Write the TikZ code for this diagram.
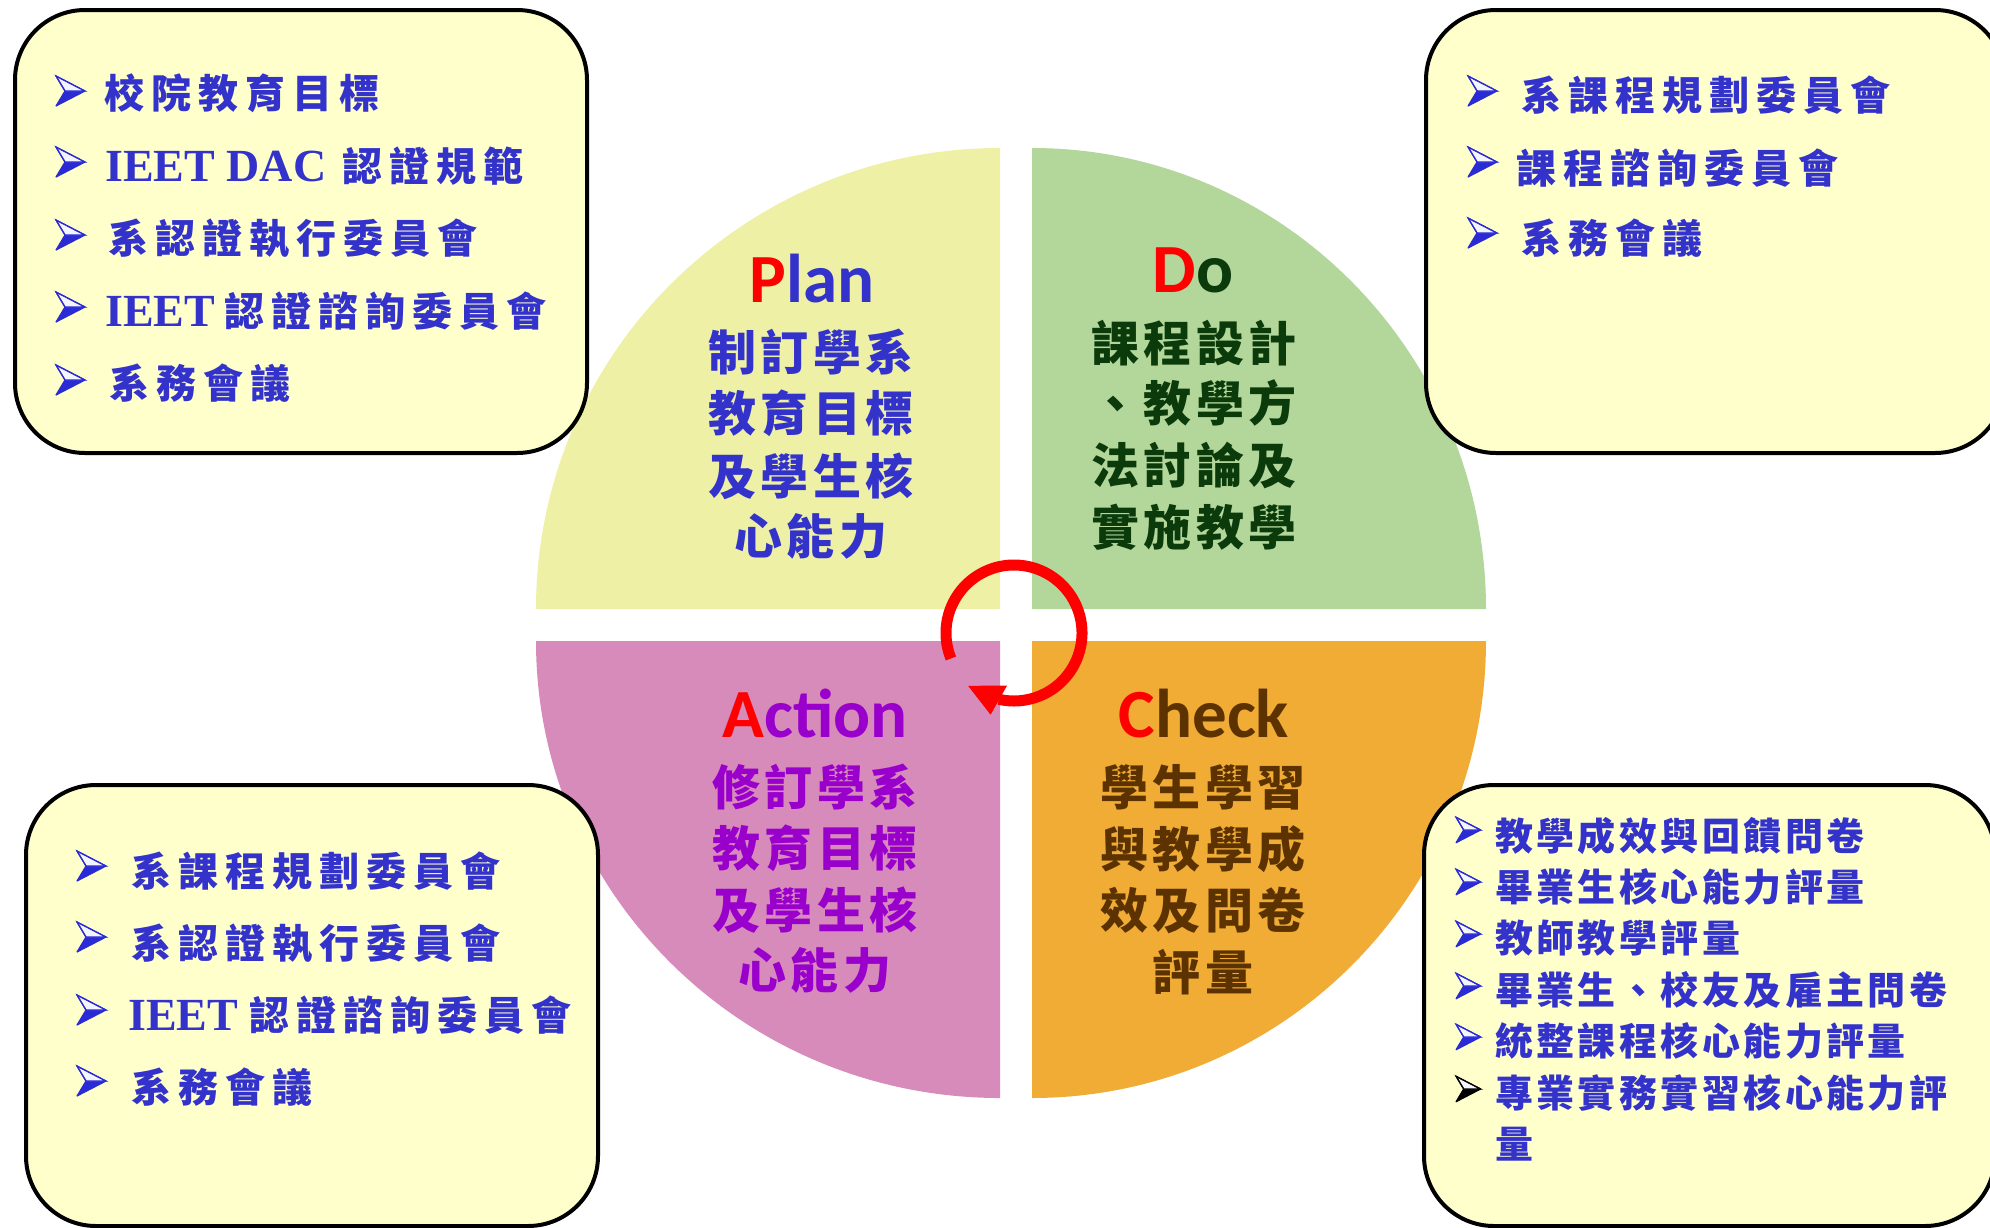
\documentclass[tikz,border=0pt]{standalone}
\usepackage{fontspec}
\newfontfamily\cjkf{Noto Sans CJK TC}
\newfontfamily\tnrf{Liberation Serif}
\newfontfamily\calf{Carlito}
\usetikzlibrary{calc}
\makeatletter
\newcommand\gapchars[2]{\def\gc@gap{#1}\gc@loop#2\relax}
\def\gc@loop#1{\ifx\relax#1\unskip\else#1\hskip\gc@gap\relax\expandafter\gc@loop\fi}
\makeatother
\newcommand\trkA[1]{\gapchars{7pt}{#1}}
\newcommand\trkB[1]{\gapchars{3.4pt}{#1}}
\newcommand\trkC[1]{\gapchars{4.3pt}{#1}}
\newcommand\latin[1]{{\tnrf\bfseries\fontsize{46}{46}\selectfont #1}}
\definecolor{boxfill}{HTML}{FFFFCC}
\definecolor{itemblue}{HTML}{3333CC}
\definecolor{bulblue}{HTML}{2B2BD6}
\definecolor{bullight}{HTML}{F4F4FF}
\definecolor{planfill}{HTML}{EEF0A6}
\definecolor{dofill}{HTML}{B3D69B}
\definecolor{actfill}{HTML}{D68BBA}
\definecolor{chkfill}{HTML}{F1AC36}
\definecolor{dogreen}{HTML}{0B3B0B}
\definecolor{actpurple}{HTML}{9900CC}
\definecolor{chkbrown}{HTML}{5C3300}
\newcommand\bulshape[1]{%
  \fill[#1] (9,0) -- (29,0) -- (0,15) -- cycle;
  \filldraw[draw=#1, fill=bullight, line width=1.2] (0,-15) -- (29,0) -- (9,0) -- cycle;
  \draw[#1, line width=1.2, line join=round] (0,-15) -- (29,0) -- (0,15) -- (9,0) -- cycle;}
\tikzset{
  bul/.pic={\bulshape{bulblue}},
  bulk/.pic={\bulshape{black}},
  box/.style={draw=black, line width=4, fill=boxfill, rounded corners=70pt, inner sep=0},
  item/.style={anchor=base west, inner sep=0, text=itemblue, font=\cjkf\bfseries\fontsize{40}{40}\selectfont},
  britem/.style={item, font=\cjkf\bfseries\fontsize{38}{38}\selectfont},
  qtext/.style={anchor=base, inner sep=0, font=\cjkf\bfseries\fontsize{48}{48}\selectfont},
  qtitle/.style={anchor=base, inner sep=0, font=\calf\bfseries\fontsize{69}{69}\selectfont},
}
\begin{document}
\begin{tikzpicture}[x=1pt,y=-1pt]
\useasboundingbox (0,0) rectangle (1990,1227);
\clip (0,0) rectangle (1990,1227);
% quadrants
\fill[planfill] (1000,609) -- (536,609) arc[start angle=180, end angle=270, x radius=464, y radius=461] -- cycle;
\fill[dofill] (1032,609) -- (1032,148) arc[start angle=270, end angle=360, x radius=454, y radius=461] -- cycle;
\fill[actfill] (1000,641) -- (1000,1098) arc[start angle=90, end angle=180, x radius=464, y radius=457] -- cycle;
\fill[chkfill] (1032,641) -- (1486,641) arc[start angle=0, end angle=90, x radius=454, y radius=457] -- cycle;
% cycle arrow
\coordinate (rc) at (1014,633);
\draw[red, line width=11] ($(rc)+(158:68)$) arc[start angle=158, end angle=463, radius=68];
\fill[red] ($(rc)+(97.5:53)$) -- ($(rc)+(131:70)$) -- ($(rc)+(106:85)$) -- cycle;
% boxes
\node[box, minimum width=572pt, minimum height=443pt] (tlbox) at (301,231.5) {};
\node[box, minimum width=579pt, minimum height=443pt] (trbox) at (1715.5,231.5) {};
\node[box, minimum width=572pt, minimum height=441pt] (blbox) at (312,1005.5) {};
\node[box, minimum width=571pt, minimum height=441pt] (brbox) at (1709.5,1005.5) {};
% top-left items
\pic at (56,91) {bul}; \pic at (56,162) {bul}; \pic at (56,235) {bul}; \pic at (56,307) {bul}; \pic at (56,380) {bul};
\node[item] (tl1) at (104,108) {\trkA{校院教育目標}};
\node[item] (tl2) at (105,181) {\latin{IEET DAC}\hspace{16pt}\trkA{認證規範}};
\node[item] (tl3) at (108,253) {\trkA{系認證執行委員會}};
\node[item] (tl4) at (105,326) {\latin{IEET}\hspace{9pt}\trkA{認證諮詢委員會}};
\node[item] (tl5) at (109,398) {\trkA{系務會議}};
% top-right items
\pic at (1468,91) {bul}; \pic at (1468,162) {bul}; \pic at (1468,233) {bul};
\node[item] (tr1) at (1521,110) {\trkA{系課程規劃委員會}};
\node[item] (tr2) at (1516,183) {\trkA{課程諮詢委員會}};
\node[item] (tr3) at (1521,253) {\trkA{系務會議}};
% bottom-left items
\pic at (77,866) {bul}; \pic at (77,937) {bul}; \pic at (77,1010) {bul}; \pic at (77,1081) {bul};
\node[item] (bl1) at (131,886) {\trkA{系課程規劃委員會}};
\node[item] (bl2) at (131,958) {\trkA{系認證執行委員會}};
\node[item] (bl3) at (128,1030) {\latin{IEET}\hspace{11pt}\trkA{認證諮詢委員會}};
\node[item] (bl4) at (131,1102) {\trkA{系務會議}};
% bottom-right items
\pic[scale=0.85] at (1456,830) {bul}; \pic[scale=0.85] at (1456,882) {bul}; \pic[scale=0.85] at (1456,934) {bul};
\pic[scale=0.85] at (1456,986) {bul}; \pic[scale=0.85] at (1456,1037) {bul}; \pic[scale=0.85] at (1456,1089) {bulk};
\node[britem] (br1) at (1495,850) {\trkB{教學成效與回饋問卷}};
\node[britem] (br2) at (1495,901) {\trkB{畢業生核心能力評量}};
\node[britem] (br3) at (1495,952) {\trkB{教師教學評量}};
\node[britem] (br4) at (1495,1004) {\trkB{畢業生、校友及雇主問卷}};
\node[britem] (br5) at (1495,1055) {\trkB{統整課程核心能力評量}};
\node[britem] (br6) at (1495,1107) {\trkB{專業實務實習核心能力評}};
\node[britem] (br7) at (1495,1158) {\trkB{量}};
% quadrant titles
\node[qtitle] (plan) at (812,302) {\textcolor{red}{P}\textcolor{itemblue}{lan}};
\node[qtitle] (do) at (1193,292) {\textcolor{red}{D}\textcolor{dogreen}{o}};
\node[qtitle] (action) at (815,737) {\textcolor{red}{A}\textcolor{actpurple}{ction}};
\node[qtitle] (check) at (1204,737) {\textcolor{red}{C}\textcolor{chkbrown}{heck}};
% quadrant texts
\node[qtext, text=itemblue] (p1) at (811,370) {\trkC{制訂學系}};
\node[qtext, text=itemblue] (p2) at (811,431) {\trkC{教育目標}};
\node[qtext, text=itemblue] (p3) at (811,494) {\trkC{及學生核}};
\node[qtext, text=itemblue] (p4) at (811,554) {\trkC{心能力}};
\node[qtext, text=dogreen] (d1) at (1194,361) {\trkC{課程設計}};
\node[qtext, text=dogreen] (d2) at (1194,421) {\trkC{、教學方}};
\node[qtext, text=dogreen] (d3) at (1194,483) {\trkC{法討論及}};
\node[qtext, text=dogreen] (d4) at (1194,545) {\trkC{實施教學}};
\node[qtext, text=actpurple] (a1) at (815,805) {\trkC{修訂學系}};
\node[qtext, text=actpurple] (a2) at (815,866) {\trkC{教育目標}};
\node[qtext, text=actpurple] (a3) at (815,928) {\trkC{及學生核}};
\node[qtext, text=actpurple] (a4) at (815,988) {\trkC{心能力}};
\node[qtext, text=chkbrown] (c1) at (1203,805) {\trkC{學生學習}};
\node[qtext, text=chkbrown] (c2) at (1203,867) {\trkC{與教學成}};
\node[qtext, text=chkbrown] (c3) at (1203,928) {\trkC{效及問卷}};
\node[qtext, text=chkbrown] (c4) at (1203,990) {\trkC{評量}};
\end{tikzpicture}
\end{document}
